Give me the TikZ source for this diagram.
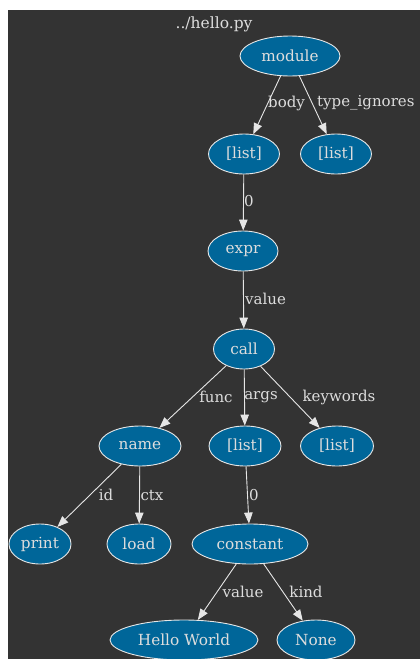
\documentclass[tikz,border=0pt]{standalone}
\usepackage{fontspec}
\setmainfont{DejaVu Serif}
\usetikzlibrary{shapes.geometric,arrows.meta}
\definecolor{bgc}{HTML}{333333}
\definecolor{ndfill}{HTML}{006699}
\definecolor{txtc}{HTML}{DDDDDD}
\definecolor{edc}{HTML}{E6E6E6}
\tikzset{
  nd/.style={ellipse, draw=edc, line width=0.9pt, fill=ndfill, text=txtc, inner sep=0pt, minimum height=40pt, font=\fontsize{15.3}{17}\selectfont},
  lbl/.style={text=txtc, inner sep=0pt, font=\fontsize{15}{17}\selectfont},
  edge/.style={draw=edc, line width=0.9pt, -{Triangle[length=11pt,width=8.5pt]}}
}
\begin{document}
\begin{tikzpicture}[x=1pt,y=-1pt]
\useasboundingbox (0,0) rectangle (420,659);
\fill[white] (0,0) rectangle (420,659);
\fill[bgc] (8,10) rectangle (420,659);
\node[lbl, font=\fontsize{15.5}{17}\selectfont] (title) at (214,24) {../hello.py};
\node[nd, minimum width=100pt] (module) at (290,56) {module};
\node[nd, minimum width=71pt] (l1) at (244,154) {[list]};
\node[nd, minimum width=71pt] (l2) at (336,154) {[list]};
\node[nd, minimum width=70pt] (expr) at (243,251) {expr};
\node[nd, minimum width=61pt] (call) at (244,349) {call};
\node[nd, minimum width=82pt] (name) at (140,446) {name};
\node[nd, minimum width=72pt] (l3) at (245,446) {[list]};
\node[nd, minimum width=73pt] (l4) at (337,446) {[list]};
\node[nd, minimum width=62pt] (print) at (40,544) {print};
\node[nd, minimum width=64pt] (load) at (139,544) {load};
\node[nd, minimum width=116pt] (const) at (250,544) {constant};
\node[nd, minimum width=148pt] (hw) at (184,640) {Hello World};
\node[nd, minimum width=78pt] (none) at (316,640) {None};
\draw[edge] (module) -- (l1);
\draw[edge] (module) -- (l2);
\draw[edge] (l1) -- (expr);
\draw[edge] (expr) -- (call);
\draw[edge] (call) -- (name);
\draw[edge] (call) -- (l3);
\draw[edge] (call) -- (l4);
\draw[edge] (name) -- (print);
\draw[edge] (name) -- (load);
\draw[edge] (l3) -- (const);
\draw[edge] (const) -- (hw);
\draw[edge] (const) -- (none);
\node[lbl, anchor=west] (e1) at (268,103) {body};
\node[lbl, anchor=west] (e2) at (317,103) {type\_ignores};
\node[lbl] (e3) at (249,201) {0};
\node[lbl, anchor=west] (e4) at (245,299) {value};
\node[lbl] (e5) at (216,397) {func};
\node[lbl] (e6) at (261,397) {args};
\node[lbl] (e7) at (339,397) {keywords};
\node[lbl] (e8) at (106,495) {id};
\node[lbl] (e9) at (152,495) {ctx};
\node[lbl] (e10) at (254,495) {0};
\node[lbl] (e11) at (243,592) {value};
\node[lbl] (e12) at (306,592) {kind};
\end{tikzpicture}
\end{document}
